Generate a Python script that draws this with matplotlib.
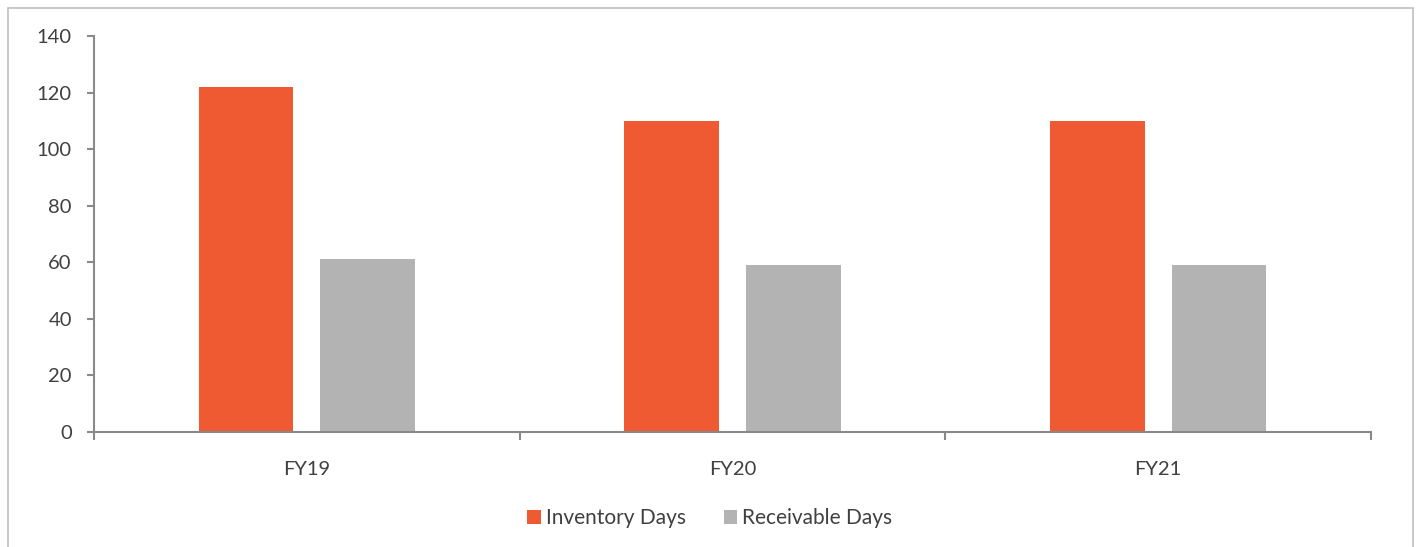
import matplotlib
matplotlib.use("Agg")
import matplotlib.pyplot as plt
from matplotlib.patches import Rectangle
import numpy as np

# Working-capital days by fiscal year
categories = ["FY19", "FY20", "FY21"]
inventory_days = [122, 110, 110]
receivable_days = [61, 59, 59]
series_names = ["Inventory Days", "Receivable Days"]
y_ticks = [0, 20, 40, 60, 80, 100, 120, 140]

ORANGE = "#F05A32"
GREY = "#B3B3B3"
AXIS = "#898989"
TEXT = "#404040"

plt.rcParams["font.family"] = ["Lato", "DejaVu Sans"]

W, H = 1418, 547
fig = plt.figure(figsize=(W / 100, H / 100), dpi=100)
fig.patch.set_facecolor("white")

# Outer chart frame
fig.patches.append(Rectangle((8 / W, -0.05), (1413 - 8) / W, 1.05 - 8 / H,
                             transform=fig.transFigure, fill=False,
                             edgecolor="#BFBFBF", linewidth=1.2))

ax = fig.add_axes([94 / W, 1 - 432 / H, (1371 - 94) / W, (432 - 36) / H])

x = np.arange(len(categories))
offset = 0.143
width = 0.223
ax.bar(x - offset, inventory_days, width, color=ORANGE, label=series_names[0])
ax.bar(x + offset, receivable_days, width, color=GREY, label=series_names[1])

ax.set_xlim(-0.5, len(categories) - 0.5)
ax.set_ylim(0, 140)
ax.set_yticks(y_ticks)
ax.set_yticklabels([str(v) for v in y_ticks])

ax.set_xticks(x)
ax.set_xticklabels(categories)
ax.set_xticks(np.arange(-0.5, len(categories), 1.0), minor=True)
ax.tick_params(axis="x", which="major", length=0, pad=21, labelsize=14.5, labelcolor=TEXT)
ax.tick_params(axis="x", which="minor", length=6, width=1.5, color=AXIS, direction="out")
ax.tick_params(axis="y", length=5, width=1.5, color=AXIS, pad=11, labelsize=14.5, labelcolor=TEXT)

for s in ("top", "right"):
    ax.spines[s].set_visible(False)
for s in ("left", "bottom"):
    ax.spines[s].set_color(AXIS)
    ax.spines[s].set_linewidth(1.5)

leg = fig.legend(loc="center", bbox_to_anchor=(710 / W, 1 - 518 / H), ncol=2,
                 frameon=False, fontsize=15, handlelength=0.65, handleheight=0.65,
                 handletextpad=0.25, columnspacing=1.8)
for t in leg.get_texts():
    t.set_color(TEXT)

fig.savefig("out.png", dpi=100, facecolor="white")
